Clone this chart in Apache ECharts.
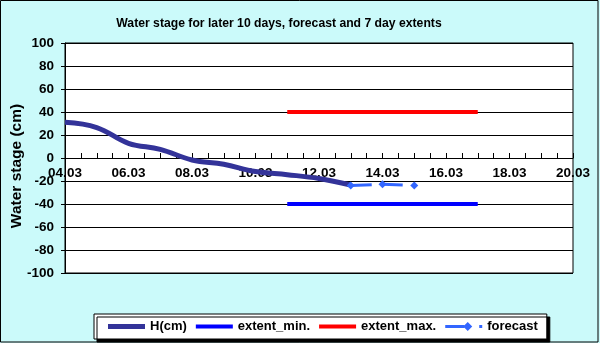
<!DOCTYPE html>
<html>
<head>
<meta charset="utf-8">
<script src="https://cdn.jsdelivr.net/npm/echarts@6/dist/echarts.min.js"></script>
<style>
  html, body { margin: 0; padding: 0; }
  #chart { width: 600px; height: 343px; }
</style>
</head>
<body>
<div id="chart"></div>
<script>
// days of March (x values)
const hDays = [4, 5, 6, 7, 8, 9, 10, 11, 12, 13]
const hValues = [31, 26.5, 12.8, 7.5, -1.7, -5.5, -11.8, -14.5, -17.8, -23.5]
const extentDays = [11, 17]
const extentMin = [-40, -40]
const extentMax = [40, 40]
const forecastDays = [13, 14, 15]
const forecastValues = [-24, -22.8, -24]
const seriesNames = ['H(cm)', 'extent_min.', 'extent_max.', 'forecast']

const pairs = (xs, ys) => xs.map((x, i) => [x, ys[i]])
const font = 'Arial, "Liberation Sans", sans-serif'

// legend icons drawn like the excel ones (plain line / dashed line with marker)
const lineIcon = 'path://M0,5H37V9H0Z'
const thickIcon = 'path://M0,4.5H37V9.5H0Z'
const forecastIcon = 'path://M0,5.5H19V8.5H0Z M18,7L22.5,2.5L27,7L22.5,11.5Z M34,5.5H37V8.5H34Z'

const chart = echarts.init(document.getElementById('chart'))
chart.setOption({
  animation: false,
  backgroundColor: '#cbfafa',
  graphic: [{
    type: 'rect',
    shape: { x: 0.5, y: 0.5, width: 597.5, height: 341.5 },
    style: { fill: 'none', stroke: '#000', lineWidth: 1 },
    silent: true
  }],
  title: {
    text: 'Water stage for later 10 days, forecast and 7 day extents',
    left: 274,
    textAlign: 'center',
    top: 13,
    textStyle: { fontFamily: font, fontSize: 12.2, fontWeight: 'bold', color: '#000' }
  },
  grid: {
    left: 65,
    right: 27,
    top: 43,
    bottom: 70,
    outerBoundsMode: 'none',
    show: true,
    backgroundColor: '#fff',
    borderColor: '#000',
    borderWidth: 1
  },
  legend: {
    data: [
      { name: seriesNames[0], icon: thickIcon },
      { name: seriesNames[1], icon: lineIcon },
      { name: seriesNames[2], icon: lineIcon },
      { name: seriesNames[3], icon: forecastIcon }
    ],
    left: 94,
    top: 314,
    padding: [6, 9, 6, 14],
    itemGap: 9,
    itemWidth: 37,
    itemHeight: 14,
    backgroundColor: '#fff',
    borderColor: '#000',
    borderWidth: 1,
    shadowColor: '#000',
    shadowBlur: 0,
    shadowOffsetX: 3,
    shadowOffsetY: 3,
    textStyle: { fontFamily: font, fontSize: 13, fontWeight: 'bold', color: '#000' }
  },
  xAxis: {
    type: 'value',
    min: 4,
    max: 20,
    interval: 0.5,
    offset: -115,
    axisLine: { onZero: false, lineStyle: { color: '#000', width: 1 } },
    axisTick: { inside: true, length: 5, lineStyle: { color: '#000' } },
    splitLine: { show: false },
    axisLabel: {
      margin: 8,
      fontFamily: font,
      fontSize: 13.5,
      fontWeight: 'bold',
      color: '#000',
      formatter: v => (v % 2 === 0 ? String(v).padStart(2, '0') + '.03' : '')
    }
  },
  yAxis: {
    type: 'value',
    min: -100,
    max: 100,
    interval: 20,
    name: 'Water stage (cm)',
    nameLocation: 'middle',
    nameGap: 40,
    nameMoveOverlap: false,
    nameTextStyle: {
      fontFamily: font, fontSize: 15.5, fontWeight: 'bold', color: '#000',
      padding: [0, 16, 0, 0]
    },
    axisLine: { show: true, lineStyle: { color: '#000' } },
    axisTick: { show: true, length: 4, lineStyle: { color: '#000' } },
    splitLine: { lineStyle: { color: '#000', width: 1 } },
    axisLabel: { margin: 11, fontFamily: font, fontSize: 13.5, fontWeight: 'bold', color: '#000' }
  },
  series: [
    {
      name: seriesNames[0],
      type: 'line',
      data: pairs(hDays, hValues),
      smooth: 0.4,
      showSymbol: false,
      symbol: 'none',
      lineStyle: { color: '#333399', width: 5 },
      itemStyle: { color: '#333399' }
    },
    {
      name: seriesNames[1],
      type: 'line',
      data: pairs(extentDays, extentMin),
      symbol: 'none',
      lineStyle: { color: '#0000ff', width: 4 },
      itemStyle: { color: '#0000ff' }
    },
    {
      name: seriesNames[2],
      type: 'line',
      data: pairs(extentDays, extentMax),
      symbol: 'none',
      lineStyle: { color: '#ff0000', width: 4 },
      itemStyle: { color: '#ff0000' }
    },
    {
      name: seriesNames[3],
      type: 'line',
      data: pairs(forecastDays, forecastValues),
      symbol: 'diamond',
      symbolSize: 8,
      lineStyle: { color: '#3366ff', width: 3, type: [21, 10] },
      itemStyle: { color: '#3366ff' }
    }
  ]
})
</script>
</body>
</html>
